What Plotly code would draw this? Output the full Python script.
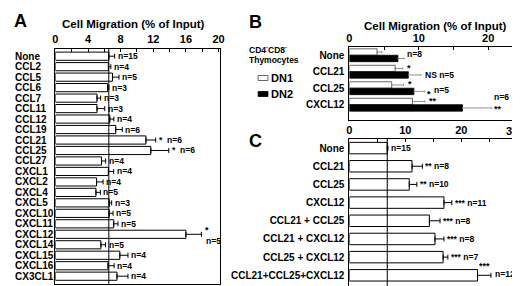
import plotly.graph_objects as go

# ---------------- data ----------------
a_cats = ["None", "CCL2", "CCL5", "CCL6", "CCL7", "CCL11", "CCL12", "CCL19", "CCL21",
          "CCL25", "CCL27", "CXCL1", "CXCL2", "CXCL4", "CXCL5", "CXCL10", "CXCL11",
          "CXCL12", "CXCL14", "CXCL15", "CXCL16", "CX3CL1"]
a_vals = [6.55, 6.5, 7.0, 6.4, 5.1, 5.1, 6.67, 7.4, 11.1, 11.7, 5.66, 6.5, 5.05, 4.97,
          6.6, 6.6, 7.15, 16.0, 5.58, 7.9, 6.45, 7.55]
a_errs = [0.72, 0.3, 0.8, 0.15, 0.45, 0.95, 0.5, 0.8, 1.2, 2.2, 0.5, 0.65, 0.8, 0.55,
          0.3, 0.47, 0.52, 1.9, 0.57, 1.0, 0.75, 1.35]
a_n = [15, 4, 5, 3, 3, 3, 4, 6, 6, 6, 4, 4, 4, 5, 3, 5, 5, 5, 5, 4, 4, 4]
a_sig = ["", "", "", "", "", "", "", "", "*", "*", "", "", "", "", "", "", "", "*", "", "", "", ""]

b_cats = ["None", "CCL21", "CCL25", "CXCL12"]
b_dn1 = [4.0, 6.6, 6.1, 9.1]
b_dn1_err = [0.7, 1.1, 1.7, 1.8]
b_dn2 = [7.0, 8.5, 9.3, 16.3]
b_dn2_err = [0.9, 1.8, 1.5, 4.2]
b_dn1_sig = ["", "*", "*", "**"]
b_dn2_sig = ["", "NS", "*", "**"]
b_n = [8, 5, 5, 6]
b_series = ["DN1", "DN2"]

c_cats = ["None", "CCL21", "CCL25", "CXCL12", "CCL21 + CCL25", "CCL21 + CXCL12",
          "CCL25 + CXCL12", "CCL21+CCL25+CXCL12"]
c_vals = [6.77, 11.2, 10.7, 16.9, 14.3, 15.3, 16.75, 22.9]
c_errs = [0.13, 1.85, 1.36, 1.4, 1.9, 1.6, 0.85, 2.4]
c_sig = ["", "**", "**", "***", "***", "***", "***", "***"]
c_n = [15, 8, 10, 11, 8, 8, 7, 12]

a_ticks = list(range(0, 21, 2))
a_ticklabels = [str(t) if t % 4 == 0 else "" for t in a_ticks]
b_ticks = [0, 5, 10, 15, 20]
b_ticklabels = ["0", "", "10", "", "20"]
c_ticks = [0, 5, 10, 15, 20, 25, 30]
c_ticklabels = ["0", "", "10", "", "20", "", ""]
c_edge_label = 30

FONT = "Liberation Sans"
W, H = 520, 286

def fnt(size, color="black"):
    return dict(family=FONT, size=size, color=color, weight="bold")

fig = go.Figure()

# Panel A
fig.add_trace(go.Bar(
    y=a_cats, x=a_vals, orientation="h", xaxis="x", yaxis="y",
    marker=dict(color="white", line=dict(color="black", width=1)),
    error_x=dict(type="data", array=a_errs, arrayminus=[0] * len(a_errs), symmetric=False,
                 color="black", thickness=1, width=2.5),
    showlegend=False))

# Panel B
fig.add_trace(go.Bar(
    y=b_cats, x=b_dn1, orientation="h", xaxis="x2", yaxis="y2", name=b_series[0],
    marker=dict(color="white", line=dict(color="#444", width=0.8)),
    error_x=dict(type="data", array=b_dn1_err, arrayminus=[0] * 4, symmetric=False,
                 color="#777", thickness=0.8, width=1),
    showlegend=False))
fig.add_trace(go.Bar(
    y=b_cats, x=b_dn2, orientation="h", xaxis="x2", yaxis="y2", name=b_series[1],
    marker=dict(color="black", line=dict(color="black", width=0.8)),
    error_x=dict(type="data", array=b_dn2_err, arrayminus=[0] * 4, symmetric=False,
                 color="#777", thickness=0.8, width=1),
    showlegend=False))

# Panel C
fig.add_trace(go.Bar(
    y=c_cats, x=c_vals, orientation="h", xaxis="x3", yaxis="y3", width=0.63,
    marker=dict(color="white", line=dict(color="black", width=1)),
    error_x=dict(type="data", array=c_errs, arrayminus=[0] * len(c_errs), symmetric=False,
                 color="black", thickness=1, width=2.5),
    showlegend=False))

def xax(domain, rng, tv, tt):
    return dict(domain=domain, range=rng, side="top", tickvals=tv, ticktext=tt,
                ticks="inside", ticklen=3, tickcolor="black", showline=True,
                linecolor="black", linewidth=1, mirror=True, showgrid=False,
                zeroline=False, tickfont=fnt(11), fixedrange=True)

def yax(domain, anchor, showlabels):
    return dict(domain=domain, anchor=anchor, type="category", autorange="reversed",
                showticklabels=showlabels, ticks="", showline=True, linecolor="black",
                linewidth=1, mirror=True, showgrid=False, zeroline=False,
                tickfont=fnt(10), ticklabelstandoff=2)

xa_dom = [45 / W, 212 / W]
xb_dom = [343 / W, 516 / W]

fig.update_layout(
    width=W, height=H, margin=dict(l=0, r=0, t=0, b=0),
    paper_bgcolor="white", plot_bgcolor="white",
    barmode="group", bargap=0.22, bargroupgap=0, showlegend=False,
    xaxis=dict(xax(xa_dom, [0, 20.2], a_ticks, a_ticklabels), anchor="y"),
    yaxis=yax([1 - 275.7 / H, 1 - 40.7 / H], "x", False),
    xaxis2=dict(xax(xb_dom, [0, 24.6], b_ticks, b_ticklabels), anchor="y2"),
    yaxis2=yax([1 - 111.7 / H, 1 - 39 / H], "x2", True),
    xaxis3=dict(xax(xb_dom, [0, 30.5], c_ticks, c_ticklabels), anchor="y3"),
    yaxis3=yax([1 - 283.3 / H, 1 - 131 / H], "x3", True),
)

# reference lines at the "None" value
fig.add_shape(type="line", xref="x", yref="y domain", x0=a_vals[0], x1=a_vals[0], y0=0, y1=1,
              line=dict(color="black", width=1))
fig.add_shape(type="line", xref="x3", yref="y3 domain", x0=c_vals[0], x1=c_vals[0], y0=0, y1=1,
              line=dict(color="black", width=1))

ann = []
# Panel A category labels (left aligned)
for c in a_cats:
    ann.append(dict(xref="paper", yref="y", x=2 / W, y=c, text=c, showarrow=False,
                    xanchor="left", yanchor="middle", font=fnt(10)))
# Panel A n / significance labels
for c, v, e, n, s in zip(a_cats, a_vals, a_errs, a_n, a_sig):
    if c == "CXCL12":
        ann.append(dict(xref="x", yref="y", x=v + e, y=c, text=s, showarrow=False,
                        xanchor="left", yanchor="middle", xshift=2, yshift=4, font=fnt(9)))
        ann.append(dict(xref="x", yref="y", x=v + e, y=c, text=f"n={n}", showarrow=False,
                        xanchor="left", yanchor="middle", xshift=3, yshift=-7, font=fnt(8.5)))
    else:
        txt = (s + "  " if s else "") + f"n={n}"
        ann.append(dict(xref="x", yref="y", x=v + e, y=c, text=txt, showarrow=False,
                        xanchor="left", yanchor="middle", xshift=1, font=fnt(8.5)))

# Panel B labels
for c, v1, e1, s1, v2, e2, s2, n in zip(b_cats, b_dn1, b_dn1_err, b_dn1_sig, b_dn2, b_dn2_err,
                                       b_dn2_sig, b_n):
    if s1:
        ann.append(dict(xref="x2", yref="y2", x=v1 + e1, y=c, text=s1, showarrow=False,
                        xanchor="left", yanchor="middle", xshift=2, yshift=4, font=fnt(9)))
    if c == "None":
        ann.append(dict(xref="x2", yref="y2", x=v2 + e2, y=c, text=f"n={n}", showarrow=False,
                        xanchor="left", yanchor="middle", xshift=1, yshift=1, font=fnt(8.5)))
    elif c == "CXCL12":
        ann.append(dict(xref="x2", yref="y2", x=v2 + e2, y=c, text=f"n={n}", showarrow=False,
                        xanchor="left", yanchor="middle", xshift=0, yshift=8, font=fnt(8.5)))
        ann.append(dict(xref="x2", yref="y2", x=v2 + e2, y=c, text=s2, showarrow=False,
                        xanchor="left", yanchor="middle", xshift=0, yshift=-4, font=fnt(9)))
    elif s2 == "*":
        ann.append(dict(xref="x2", yref="y2", x=v2 + e2, y=c, text=s2, showarrow=False,
                        xanchor="left", yanchor="middle", xshift=1, yshift=-6, font=fnt(9)))
        ann.append(dict(xref="x2", yref="y2", x=v2 + e2, y=c, text=f"n={n}", showarrow=False,
                        xanchor="left", yanchor="middle", xshift=8, yshift=-2, font=fnt(8.5)))
    else:
        ann.append(dict(xref="x2", yref="y2", x=v2 + e2, y=c, text=f"{s2} n={n}", showarrow=False,
                        xanchor="left", yanchor="middle", xshift=2, yshift=-3, font=fnt(8.5)))

# Panel C labels
for c, v, e, s, n in zip(c_cats, c_vals, c_errs, c_sig, c_n):
    if c == "CCL21+CCL25+CXCL12":
        ann.append(dict(xref="x3", yref="y3", x=v + e, y=c, text=s, showarrow=False,
                        xanchor="right", yanchor="middle", xshift=1, yshift=9, font=fnt(9)))
        ann.append(dict(xref="x3", yref="y3", x=v + e, y=c, text=f"n={n}", showarrow=False,
                        xanchor="left", yanchor="middle", xshift=2, yshift=1, font=fnt(8.5)))
    else:
        txt = (s + " " if s else "") + f"n={n}"
        ann.append(dict(xref="x3", yref="y3", x=v + e, y=c, text=txt, showarrow=False,
                        xanchor="left", yanchor="middle", xshift=1, font=fnt(8.5)))

# last C tick label kept inside the page
ann.append(dict(xref="x3", yref="y3 domain", x=c_edge_label, y=1, text=str(c_edge_label),
                showarrow=False, xanchor="right", yanchor="bottom", xshift=3, yshift=0,
                font=fnt(11)))

# titles and panel letters
ann.append(dict(xref="paper", yref="paper", x=124 / W, y=1 - 16 / H, text="Cell Migration (% of Input)",
                showarrow=False, xanchor="center", yanchor="middle", font=fnt(11.5)))
ann.append(dict(xref="paper", yref="paper", x=430 / W, y=1 - 18 / H, text="Cell Migration (% of Input)",
                showarrow=False, xanchor="center", yanchor="middle", font=fnt(11.5)))
for letter, lx, ly in [("A", 1, 1), ("B", 239, 2), ("C", 239, 121)]:
    ann.append(dict(xref="paper", yref="paper", x=lx / W, y=1 - ly / H, text=letter,
                    showarrow=False, xanchor="left", yanchor="top", font=fnt(18)))

# legend for panel B (title, swatches, labels)
ann.append(dict(xref="paper", yref="paper", x=239 / W, y=1 - 41.5 / H,
                text="CD4<sup>-</sup>CD8<sup>-</sup>", showarrow=False, xanchor="left",
                yanchor="middle", font=fnt(8.5)))
ann.append(dict(xref="paper", yref="paper", x=239 / W, y=1 - 52 / H, text="Thymocytes",
                showarrow=False, xanchor="left", yanchor="middle", font=fnt(8.5)))
leg_rows = [(70, "white", "#444"), (86, "black", "black")]
for name, (ly, fc, lc) in zip(b_series, leg_rows):
    fig.add_shape(type="rect", xref="paper", yref="paper", x0=250.5 / W, x1=260.5 / W,
                  y0=1 - (ly + 2.5) / H, y1=1 - (ly - 2.5) / H,
                  fillcolor=fc, line=dict(color=lc, width=0.8))
    ann.append(dict(xref="paper", yref="paper", x=262 / W, y=1 - ly / H, text=name,
                    showarrow=False, xanchor="left", yanchor="middle", font=fnt(11)))

fig.update_layout(annotations=ann)
fig.write_html("out.html")
